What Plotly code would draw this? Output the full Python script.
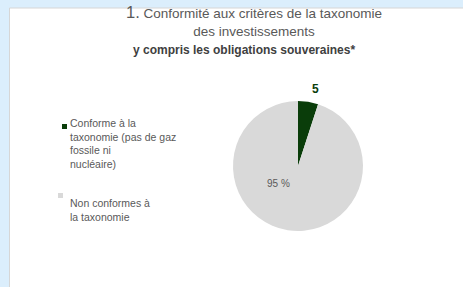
import math
import plotly.graph_objects as go

labels = ["Conforme à la<br>taxonomie (pas de gaz<br>fossile ni<br>nucléaire)", "Non conformes à<br>la taxonomie"]
values = [5, 95]
slice_text = ["<b>{:g}</b>", "{:g} %"]
colors = ["#0a3d0a", "#d9d9d9"]
text_colors = ["#0a3d0a", "#595959"]

W, H = 463, 287
FONT = "Liberation Sans, Arial, sans-serif"

# pie placement (pixels)
PX0, PX1, PY0, PY1 = 233, 363, 101, 231
CX, CY, R = (PX0 + PX1) / 2, (PY0 + PY1) / 2, (PX1 - PX0) / 2

fig = go.Figure()
fig.add_trace(go.Pie(
    values=values,
    labels=labels,
    textinfo="none",
    marker=dict(colors=colors, line=dict(width=0)),
    sort=False,
    direction="clockwise",
    rotation=0,
    hole=0,
    showlegend=False,
    hoverinfo="label+percent",
    domain=dict(x=[PX0 / W, PX1 / W], y=[1 - PY1 / H, 1 - PY0 / H]),
))

# slice labels: placed along the slice direction (radius factor, angle tweak in degrees)
label_style = [dict(rf=1.22, dang=4, size=12), dict(rf=0.41, dang=39, size=10)]
total = sum(values)
start = 0.0
for i, v in enumerate(values):
    mid = start + v / total * 360 / 2
    start += v / total * 360
    st = label_style[i]
    a = math.radians(mid + st["dang"])
    x = CX + st["rf"] * R * math.sin(a)
    y = CY - st["rf"] * R * math.cos(a)
    fig.add_annotation(x=x / W, y=1 - y / H, xref="paper", yref="paper", showarrow=False,
                       text=slice_text[i].format(v), xanchor="center", yanchor="middle",
                       font=dict(family=FONT, size=st["size"], color=text_colors[i]))

# white panel
fig.add_shape(type="rect", xref="paper", yref="paper",
              x0=9.5 / W, x1=1.01, y0=-0.01, y1=1 - 8 / H,
              fillcolor="white", line=dict(color="#d6d6d6", width=1), layer="below")

# title (two lines in one text block + bold subtitle)
fig.add_annotation(x=254 / W, y=1 - 1 / H, xref="paper", yref="paper", showarrow=False,
                   text="<span style='font-size:16.5px'>1.</span> Conformité aux critères de la taxonomie"
                        "<br>des investissements",
                   align="center",
                   font=dict(family=FONT, size=13.5, color="#595959"), xanchor="center", yanchor="top")
fig.add_annotation(x=244 / W, y=1 - 50 / H, xref="paper", yref="paper", showarrow=False,
                   text="<b>y compris les obligations souveraines*</b>",
                   font=dict(family=FONT, size=12, color="#404040"), xanchor="center", yanchor="middle")

# legend (built from labels/colors)
leg_y = [123, 203]
sq_x = [(62, 67), (58, 63)]
sq_y = [(124, 129), (193, 198)]
for i, lab in enumerate(labels):
    fig.add_shape(type="rect", xref="paper", yref="paper",
                  x0=sq_x[i][0] / W, x1=sq_x[i][1] / W,
                  y0=1 - sq_y[i][1] / H, y1=1 - sq_y[i][0] / H,
                  fillcolor=colors[i], line=dict(width=0))
    fig.add_annotation(x=68 / W, y=1 - (leg_y[i] - 8) / H, xref="paper", yref="paper", showarrow=False,
                       text=lab, align="left", xanchor="left", yanchor="top",
                       font=dict(family=FONT, size=10.5, color="#595959"))

fig.update_layout(
    width=W, height=H,
    margin=dict(l=0, r=0, t=0, b=0),
    paper_bgcolor="#dbeefc",
    plot_bgcolor="white",
)
fig.write_html("out.html", config=dict(displayModeBar=False),
               post_script="document.body.style.margin='0';document.body.style.overflow='hidden';")
